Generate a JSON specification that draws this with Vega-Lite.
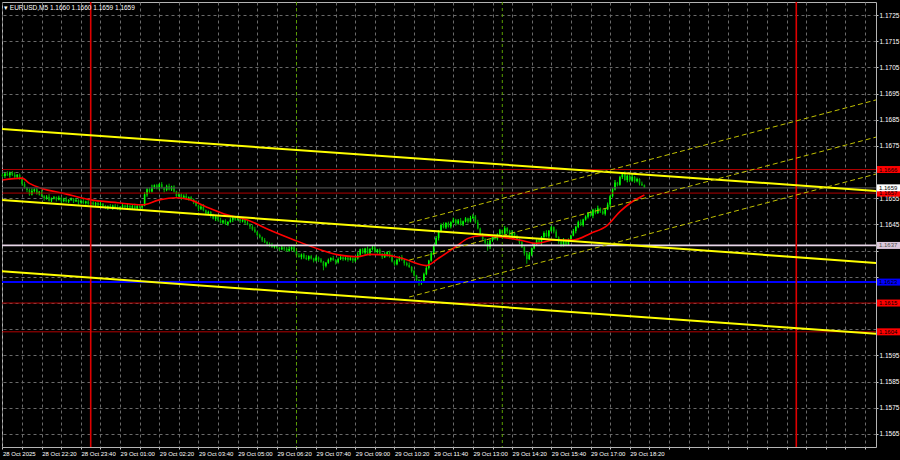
{
"$schema":"https://vega.github.io/schema/vega-lite/v6.json",
"width":874,"height":445,
"autosize":{"type":"none"},
"padding":{"left":2,"top":2,"right":24,"bottom":13},
"background":"#000000",
"title":{"text":"▾  EURUSD,M5  1.1660 1.1660 1.1659 1.1659","anchor":"start","frame":"group","offset":-10,"fontSize":6.5,"font":"Liberation Sans","fontWeight":"normal","color":"#ffffff","dx":2},
"datasets":{
"candles":[
{"t":"2025-10-28T21:00Z","o":1.1664,"h":1.16645,"l":1.16631,"c":1.16635},
{"t":"2025-10-28T21:05Z","o":1.16635,"h":1.16648,"l":1.16628,"c":1.16645},
{"t":"2025-10-28T21:10Z","o":1.16645,"h":1.16653,"l":1.16635,"c":1.16638},
{"t":"2025-10-28T21:15Z","o":1.16638,"h":1.16652,"l":1.16629,"c":1.16648},
{"t":"2025-10-28T21:20Z","o":1.16648,"h":1.16654,"l":1.16635,"c":1.1664},
{"t":"2025-10-28T21:25Z","o":1.1664,"h":1.1665,"l":1.16628,"c":1.16632},
{"t":"2025-10-28T21:30Z","o":1.16632,"h":1.16643,"l":1.16626,"c":1.1664},
{"t":"2025-10-28T21:35Z","o":1.1664,"h":1.16645,"l":1.16621,"c":1.16625},
{"t":"2025-10-28T21:40Z","o":1.16625,"h":1.16628,"l":1.16598,"c":1.16605},
{"t":"2025-10-28T21:45Z","o":1.16605,"h":1.16613,"l":1.16587,"c":1.1659},
{"t":"2025-10-28T21:50Z","o":1.1659,"h":1.16594,"l":1.16573,"c":1.16582},
{"t":"2025-10-28T21:55Z","o":1.16582,"h":1.16588,"l":1.1656,"c":1.16565},
{"t":"2025-10-28T22:00Z","o":1.16565,"h":1.16588,"l":1.16561,"c":1.16578},
{"t":"2025-10-28T22:05Z","o":1.16578,"h":1.16588,"l":1.16572,"c":1.16585},
{"t":"2025-10-28T22:10Z","o":1.16585,"h":1.1659,"l":1.16564,"c":1.16568},
{"t":"2025-10-28T22:15Z","o":1.16568,"h":1.16578,"l":1.16561,"c":1.16575},
{"t":"2025-10-28T22:20Z","o":1.16575,"h":1.16583,"l":1.16555,"c":1.16558},
{"t":"2025-10-28T22:25Z","o":1.16558,"h":1.16562,"l":1.16541,"c":1.1655},
{"t":"2025-10-28T22:30Z","o":1.1655,"h":1.16562,"l":1.16545,"c":1.16556},
{"t":"2025-10-28T22:35Z","o":1.16556,"h":1.16566,"l":1.16538,"c":1.16542},
{"t":"2025-10-28T22:40Z","o":1.16542,"h":1.16553,"l":1.16536,"c":1.1655},
{"t":"2025-10-28T22:45Z","o":1.1655,"h":1.16559,"l":1.16546,"c":1.16554},
{"t":"2025-10-28T22:50Z","o":1.16554,"h":1.16557,"l":1.16538,"c":1.16545},
{"t":"2025-10-28T22:55Z","o":1.16545,"h":1.1656,"l":1.16542,"c":1.16552},
{"t":"2025-10-28T23:00Z","o":1.16552,"h":1.16556,"l":1.16531,"c":1.1654},
{"t":"2025-10-28T23:05Z","o":1.1654,"h":1.16552,"l":1.16535,"c":1.16546},
{"t":"2025-10-28T23:10Z","o":1.16546,"h":1.16556,"l":1.16534,"c":1.16538},
{"t":"2025-10-28T23:15Z","o":1.16538,"h":1.16547,"l":1.16532,"c":1.16544},
{"t":"2025-10-28T23:20Z","o":1.16544,"h":1.16553,"l":1.1654,"c":1.16548},
{"t":"2025-10-28T23:25Z","o":1.16548,"h":1.16551,"l":1.16532,"c":1.16539},
{"t":"2025-10-28T23:30Z","o":1.16539,"h":1.16551,"l":1.16536,"c":1.16543},
{"t":"2025-10-28T23:35Z","o":1.16543,"h":1.16547,"l":1.16526,"c":1.16535},
{"t":"2025-10-28T23:40Z","o":1.16535,"h":1.16546,"l":1.1653,"c":1.1654},
{"t":"2025-10-28T23:45Z","o":1.1654,"h":1.1655,"l":1.16528,"c":1.16532},
{"t":"2025-10-28T23:50Z","o":1.16532,"h":1.16541,"l":1.16526,"c":1.16538},
{"t":"2025-10-28T23:55Z","o":1.16538,"h":1.16543,"l":1.16525,"c":1.16529},
{"t":"2025-10-29T00:00Z","o":1.16529,"h":1.16537,"l":1.16522,"c":1.16534},
{"t":"2025-10-29T00:05Z","o":1.16534,"h":1.16542,"l":1.16523,"c":1.16526},
{"t":"2025-10-29T00:10Z","o":1.16526,"h":1.16536,"l":1.16517,"c":1.16532},
{"t":"2025-10-29T00:15Z","o":1.16532,"h":1.16538,"l":1.16519,"c":1.16524},
{"t":"2025-10-29T00:20Z","o":1.16524,"h":1.16539,"l":1.1652,"c":1.16529},
{"t":"2025-10-29T00:25Z","o":1.16529,"h":1.16532,"l":1.16514,"c":1.1652},
{"t":"2025-10-29T00:30Z","o":1.1652,"h":1.16525,"l":1.16509,"c":1.16513},
{"t":"2025-10-29T00:35Z","o":1.16513,"h":1.16523,"l":1.16506,"c":1.1652},
{"t":"2025-10-29T00:40Z","o":1.1652,"h":1.16528,"l":1.16512,"c":1.16515},
{"t":"2025-10-29T00:45Z","o":1.16515,"h":1.16526,"l":1.16506,"c":1.16522},
{"t":"2025-10-29T00:50Z","o":1.16522,"h":1.16528,"l":1.16511,"c":1.16516},
{"t":"2025-10-29T00:55Z","o":1.16516,"h":1.16526,"l":1.16506,"c":1.1651},
{"t":"2025-10-29T01:00Z","o":1.1651,"h":1.1652,"l":1.16504,"c":1.16517},
{"t":"2025-10-29T01:05Z","o":1.16517,"h":1.16528,"l":1.16513,"c":1.16523},
{"t":"2025-10-29T01:10Z","o":1.16523,"h":1.16526,"l":1.16509,"c":1.16516},
{"t":"2025-10-29T01:15Z","o":1.16516,"h":1.1653,"l":1.16513,"c":1.16522},
{"t":"2025-10-29T01:20Z","o":1.16522,"h":1.16526,"l":1.16505,"c":1.16514},
{"t":"2025-10-29T01:25Z","o":1.16514,"h":1.16526,"l":1.16509,"c":1.1652},
{"t":"2025-10-29T01:30Z","o":1.1652,"h":1.1653,"l":1.16508,"c":1.16512},
{"t":"2025-10-29T01:35Z","o":1.16512,"h":1.16524,"l":1.16506,"c":1.16521},
{"t":"2025-10-29T01:40Z","o":1.16521,"h":1.16526,"l":1.16511,"c":1.16515},
{"t":"2025-10-29T01:45Z","o":1.16515,"h":1.16526,"l":1.16508,"c":1.16523},
{"t":"2025-10-29T01:50Z","o":1.16523,"h":1.16573,"l":1.1652,"c":1.16565},
{"t":"2025-10-29T01:55Z","o":1.16565,"h":1.16589,"l":1.16556,"c":1.16585},
{"t":"2025-10-29T02:00Z","o":1.16585,"h":1.16591,"l":1.16571,"c":1.16576},
{"t":"2025-10-29T02:05Z","o":1.16576,"h":1.16602,"l":1.16572,"c":1.16592},
{"t":"2025-10-29T02:10Z","o":1.16592,"h":1.16603,"l":1.16586,"c":1.166},
{"t":"2025-10-29T02:15Z","o":1.166,"h":1.16605,"l":1.16584,"c":1.16588},
{"t":"2025-10-29T02:20Z","o":1.16588,"h":1.16607,"l":1.16581,"c":1.16604},
{"t":"2025-10-29T02:25Z","o":1.16604,"h":1.16612,"l":1.16587,"c":1.1659},
{"t":"2025-10-29T02:30Z","o":1.1659,"h":1.16594,"l":1.16573,"c":1.16582},
{"t":"2025-10-29T02:35Z","o":1.16582,"h":1.16602,"l":1.16577,"c":1.16596},
{"t":"2025-10-29T02:40Z","o":1.16596,"h":1.16606,"l":1.1658,"c":1.16584},
{"t":"2025-10-29T02:45Z","o":1.16584,"h":1.16598,"l":1.16578,"c":1.16595},
{"t":"2025-10-29T02:50Z","o":1.16595,"h":1.166,"l":1.16572,"c":1.16576},
{"t":"2025-10-29T02:55Z","o":1.16576,"h":1.16579,"l":1.16551,"c":1.16558},
{"t":"2025-10-29T03:00Z","o":1.16558,"h":1.16573,"l":1.16555,"c":1.16565},
{"t":"2025-10-29T03:05Z","o":1.16565,"h":1.16569,"l":1.16543,"c":1.16552},
{"t":"2025-10-29T03:10Z","o":1.16552,"h":1.16565,"l":1.16547,"c":1.16559},
{"t":"2025-10-29T03:15Z","o":1.16559,"h":1.16569,"l":1.16544,"c":1.16548},
{"t":"2025-10-29T03:20Z","o":1.16548,"h":1.16557,"l":1.16542,"c":1.16554},
{"t":"2025-10-29T03:25Z","o":1.16554,"h":1.16559,"l":1.16542,"c":1.16546},
{"t":"2025-10-29T03:30Z","o":1.16546,"h":1.16549,"l":1.16528,"c":1.16535},
{"t":"2025-10-29T03:35Z","o":1.16535,"h":1.16543,"l":1.16519,"c":1.16522},
{"t":"2025-10-29T03:40Z","o":1.16522,"h":1.16526,"l":1.16501,"c":1.1651},
{"t":"2025-10-29T03:45Z","o":1.1651,"h":1.16524,"l":1.16505,"c":1.16518},
{"t":"2025-10-29T03:50Z","o":1.16518,"h":1.16528,"l":1.165,"c":1.16504},
{"t":"2025-10-29T03:55Z","o":1.16504,"h":1.16507,"l":1.16486,"c":1.16492},
{"t":"2025-10-29T04:00Z","o":1.16492,"h":1.16503,"l":1.16488,"c":1.16498},
{"t":"2025-10-29T04:05Z","o":1.16498,"h":1.16501,"l":1.16476,"c":1.16483},
{"t":"2025-10-29T04:10Z","o":1.16483,"h":1.16491,"l":1.16469,"c":1.16472},
{"t":"2025-10-29T04:15Z","o":1.16472,"h":1.16483,"l":1.16463,"c":1.16479},
{"t":"2025-10-29T04:20Z","o":1.16479,"h":1.16485,"l":1.16461,"c":1.16466},
{"t":"2025-10-29T04:25Z","o":1.16466,"h":1.16476,"l":1.16454,"c":1.16458},
{"t":"2025-10-29T04:30Z","o":1.16458,"h":1.16468,"l":1.16452,"c":1.16465},
{"t":"2025-10-29T04:35Z","o":1.16465,"h":1.1647,"l":1.16448,"c":1.16452},
{"t":"2025-10-29T04:40Z","o":1.16452,"h":1.16463,"l":1.16445,"c":1.1646},
{"t":"2025-10-29T04:45Z","o":1.1646,"h":1.16476,"l":1.16457,"c":1.16468},
{"t":"2025-10-29T04:50Z","o":1.16468,"h":1.1648,"l":1.16459,"c":1.16476},
{"t":"2025-10-29T04:55Z","o":1.16476,"h":1.16482,"l":1.16464,"c":1.16469},
{"t":"2025-10-29T05:00Z","o":1.16469,"h":1.16484,"l":1.16465,"c":1.16474},
{"t":"2025-10-29T05:05Z","o":1.16474,"h":1.16477,"l":1.16456,"c":1.16462},
{"t":"2025-10-29T05:10Z","o":1.16462,"h":1.16473,"l":1.16458,"c":1.16468},
{"t":"2025-10-29T05:15Z","o":1.16468,"h":1.16471,"l":1.1645,"c":1.16457},
{"t":"2025-10-29T05:20Z","o":1.16457,"h":1.16465,"l":1.16447,"c":1.1645},
{"t":"2025-10-29T05:25Z","o":1.1645,"h":1.16454,"l":1.16433,"c":1.16442},
{"t":"2025-10-29T05:30Z","o":1.16442,"h":1.16448,"l":1.16426,"c":1.16431},
{"t":"2025-10-29T05:35Z","o":1.16431,"h":1.16441,"l":1.16418,"c":1.16422},
{"t":"2025-10-29T05:40Z","o":1.16422,"h":1.16425,"l":1.16404,"c":1.1641},
{"t":"2025-10-29T05:45Z","o":1.1641,"h":1.16415,"l":1.16397,"c":1.16401},
{"t":"2025-10-29T05:50Z","o":1.16401,"h":1.16404,"l":1.16383,"c":1.1639},
{"t":"2025-10-29T05:55Z","o":1.1639,"h":1.16398,"l":1.16379,"c":1.16382},
{"t":"2025-10-29T06:00Z","o":1.16382,"h":1.16386,"l":1.16367,"c":1.16376},
{"t":"2025-10-29T06:05Z","o":1.16376,"h":1.16382,"l":1.16365,"c":1.1637},
{"t":"2025-10-29T06:10Z","o":1.1637,"h":1.1638,"l":1.1636,"c":1.16364},
{"t":"2025-10-29T06:15Z","o":1.16364,"h":1.16371,"l":1.16358,"c":1.16368},
{"t":"2025-10-29T06:20Z","o":1.16368,"h":1.16373,"l":1.16357,"c":1.16361},
{"t":"2025-10-29T06:25Z","o":1.16361,"h":1.16364,"l":1.16348,"c":1.16355},
{"t":"2025-10-29T06:30Z","o":1.16355,"h":1.1637,"l":1.16352,"c":1.16362},
{"t":"2025-10-29T06:35Z","o":1.16362,"h":1.16366,"l":1.16349,"c":1.16358},
{"t":"2025-10-29T06:40Z","o":1.16358,"h":1.16364,"l":1.16345,"c":1.1635},
{"t":"2025-10-29T06:45Z","o":1.1635,"h":1.16366,"l":1.16346,"c":1.16356},
{"t":"2025-10-29T06:50Z","o":1.16356,"h":1.16366,"l":1.1635,"c":1.16363},
{"t":"2025-10-29T06:55Z","o":1.16363,"h":1.16368,"l":1.16344,"c":1.16348},
{"t":"2025-10-29T07:00Z","o":1.16348,"h":1.16351,"l":1.16325,"c":1.16332},
{"t":"2025-10-29T07:05Z","o":1.16332,"h":1.1634,"l":1.16323,"c":1.16326},
{"t":"2025-10-29T07:10Z","o":1.16326,"h":1.16339,"l":1.16317,"c":1.16335},
{"t":"2025-10-29T07:15Z","o":1.16335,"h":1.16341,"l":1.16318,"c":1.16323},
{"t":"2025-10-29T07:20Z","o":1.16323,"h":1.16333,"l":1.16314,"c":1.16318},
{"t":"2025-10-29T07:25Z","o":1.16318,"h":1.16332,"l":1.16312,"c":1.16329},
{"t":"2025-10-29T07:30Z","o":1.16329,"h":1.16334,"l":1.16316,"c":1.1632},
{"t":"2025-10-29T07:35Z","o":1.1632,"h":1.16323,"l":1.16305,"c":1.16312},
{"t":"2025-10-29T07:40Z","o":1.16312,"h":1.16332,"l":1.16309,"c":1.16324},
{"t":"2025-10-29T07:45Z","o":1.16324,"h":1.16328,"l":1.16307,"c":1.16316},
{"t":"2025-10-29T07:50Z","o":1.16316,"h":1.16322,"l":1.16303,"c":1.16308},
{"t":"2025-10-29T07:55Z","o":1.16308,"h":1.16311,"l":1.16275,"c":1.16292},
{"t":"2025-10-29T08:00Z","o":1.16292,"h":1.16307,"l":1.16286,"c":1.16304},
{"t":"2025-10-29T08:05Z","o":1.16304,"h":1.1632,"l":1.163,"c":1.16315},
{"t":"2025-10-29T08:10Z","o":1.16315,"h":1.16325,"l":1.16308,"c":1.16322},
{"t":"2025-10-29T08:15Z","o":1.16322,"h":1.1633,"l":1.16311,"c":1.16314},
{"t":"2025-10-29T08:20Z","o":1.16314,"h":1.16318,"l":1.16297,"c":1.16306},
{"t":"2025-10-29T08:25Z","o":1.16306,"h":1.16324,"l":1.16301,"c":1.16318},
{"t":"2025-10-29T08:30Z","o":1.16318,"h":1.16335,"l":1.16314,"c":1.16325},
{"t":"2025-10-29T08:35Z","o":1.16325,"h":1.16328,"l":1.16311,"c":1.16317},
{"t":"2025-10-29T08:40Z","o":1.16317,"h":1.16328,"l":1.16313,"c":1.16323},
{"t":"2025-10-29T08:45Z","o":1.16323,"h":1.16326,"l":1.16308,"c":1.16315},
{"t":"2025-10-29T08:50Z","o":1.16315,"h":1.16329,"l":1.16312,"c":1.16321},
{"t":"2025-10-29T08:55Z","o":1.16321,"h":1.16325,"l":1.16303,"c":1.16312},
{"t":"2025-10-29T09:00Z","o":1.16312,"h":1.16326,"l":1.16307,"c":1.1632},
{"t":"2025-10-29T09:05Z","o":1.1632,"h":1.16344,"l":1.16316,"c":1.16334},
{"t":"2025-10-29T09:10Z","o":1.16334,"h":1.16358,"l":1.16328,"c":1.16355},
{"t":"2025-10-29T09:15Z","o":1.16355,"h":1.1636,"l":1.16338,"c":1.16342},
{"t":"2025-10-29T09:20Z","o":1.16342,"h":1.16361,"l":1.16335,"c":1.16358},
{"t":"2025-10-29T09:25Z","o":1.16358,"h":1.16366,"l":1.16336,"c":1.16339},
{"t":"2025-10-29T09:30Z","o":1.16339,"h":1.1636,"l":1.1633,"c":1.16356},
{"t":"2025-10-29T09:35Z","o":1.16356,"h":1.16368,"l":1.16351,"c":1.16362},
{"t":"2025-10-29T09:40Z","o":1.16362,"h":1.16372,"l":1.16341,"c":1.16345},
{"t":"2025-10-29T09:45Z","o":1.16345,"h":1.16357,"l":1.16339,"c":1.16354},
{"t":"2025-10-29T09:50Z","o":1.16354,"h":1.16359,"l":1.16334,"c":1.16338},
{"t":"2025-10-29T09:55Z","o":1.16338,"h":1.16341,"l":1.16318,"c":1.16325},
{"t":"2025-10-29T10:00Z","o":1.16325,"h":1.16344,"l":1.16322,"c":1.16336},
{"t":"2025-10-29T10:05Z","o":1.16336,"h":1.16348,"l":1.16327,"c":1.16344},
{"t":"2025-10-29T10:10Z","o":1.16344,"h":1.1635,"l":1.16323,"c":1.16328},
{"t":"2025-10-29T10:15Z","o":1.16328,"h":1.16338,"l":1.16305,"c":1.16309},
{"t":"2025-10-29T10:20Z","o":1.16309,"h":1.16312,"l":1.16292,"c":1.16298},
{"t":"2025-10-29T10:25Z","o":1.16298,"h":1.1632,"l":1.16294,"c":1.16315},
{"t":"2025-10-29T10:30Z","o":1.16315,"h":1.16329,"l":1.16308,"c":1.16326},
{"t":"2025-10-29T10:35Z","o":1.16326,"h":1.16334,"l":1.16311,"c":1.16314},
{"t":"2025-10-29T10:40Z","o":1.16314,"h":1.16318,"l":1.16293,"c":1.16302},
{"t":"2025-10-29T10:45Z","o":1.16302,"h":1.16308,"l":1.1629,"c":1.16295},
{"t":"2025-10-29T10:50Z","o":1.16295,"h":1.16305,"l":1.16284,"c":1.16288},
{"t":"2025-10-29T10:55Z","o":1.16288,"h":1.16291,"l":1.16266,"c":1.16272},
{"t":"2025-10-29T11:00Z","o":1.16272,"h":1.16277,"l":1.16251,"c":1.16255},
{"t":"2025-10-29T11:05Z","o":1.16255,"h":1.16258,"l":1.16231,"c":1.16238},
{"t":"2025-10-29T11:10Z","o":1.16238,"h":1.16242,"l":1.16216,"c":1.16229},
{"t":"2025-10-29T11:15Z","o":1.16229,"h":1.16239,"l":1.1622,"c":1.16235},
{"t":"2025-10-29T11:20Z","o":1.16235,"h":1.16266,"l":1.1623,"c":1.1626},
{"t":"2025-10-29T11:25Z","o":1.1626,"h":1.16294,"l":1.16256,"c":1.16284},
{"t":"2025-10-29T11:30Z","o":1.16284,"h":1.16315,"l":1.16278,"c":1.16312},
{"t":"2025-10-29T11:35Z","o":1.16312,"h":1.16345,"l":1.16308,"c":1.1634},
{"t":"2025-10-29T11:40Z","o":1.1634,"h":1.16374,"l":1.16333,"c":1.16371},
{"t":"2025-10-29T11:45Z","o":1.16371,"h":1.16406,"l":1.16368,"c":1.16398},
{"t":"2025-10-29T11:50Z","o":1.16398,"h":1.16429,"l":1.16389,"c":1.16425},
{"t":"2025-10-29T11:55Z","o":1.16425,"h":1.16454,"l":1.1642,"c":1.16448},
{"t":"2025-10-29T12:00Z","o":1.16448,"h":1.16458,"l":1.16435,"c":1.16439},
{"t":"2025-10-29T12:05Z","o":1.16439,"h":1.16459,"l":1.16433,"c":1.16456},
{"t":"2025-10-29T12:10Z","o":1.16456,"h":1.16461,"l":1.16438,"c":1.16442},
{"t":"2025-10-29T12:15Z","o":1.16442,"h":1.16462,"l":1.16435,"c":1.16459},
{"t":"2025-10-29T12:20Z","o":1.16459,"h":1.16476,"l":1.16456,"c":1.16468},
{"t":"2025-10-29T12:25Z","o":1.16468,"h":1.16472,"l":1.16445,"c":1.16454},
{"t":"2025-10-29T12:30Z","o":1.16454,"h":1.16471,"l":1.16449,"c":1.16465},
{"t":"2025-10-29T12:35Z","o":1.16465,"h":1.16475,"l":1.16446,"c":1.1645},
{"t":"2025-10-29T12:40Z","o":1.1645,"h":1.16465,"l":1.16444,"c":1.16462},
{"t":"2025-10-29T12:45Z","o":1.16462,"h":1.16478,"l":1.16458,"c":1.16473},
{"t":"2025-10-29T12:50Z","o":1.16473,"h":1.16476,"l":1.16454,"c":1.16461},
{"t":"2025-10-29T12:55Z","o":1.16461,"h":1.16483,"l":1.16458,"c":1.16475},
{"t":"2025-10-29T13:00Z","o":1.16475,"h":1.16489,"l":1.16471,"c":1.1648},
{"t":"2025-10-29T13:05Z","o":1.1648,"h":1.16486,"l":1.16453,"c":1.16458},
{"t":"2025-10-29T13:10Z","o":1.16458,"h":1.16468,"l":1.16431,"c":1.16435},
{"t":"2025-10-29T13:15Z","o":1.16435,"h":1.16438,"l":1.16406,"c":1.16412},
{"t":"2025-10-29T13:20Z","o":1.16412,"h":1.16417,"l":1.1639,"c":1.16394},
{"t":"2025-10-29T13:25Z","o":1.16394,"h":1.16397,"l":1.16373,"c":1.1638},
{"t":"2025-10-29T13:30Z","o":1.1638,"h":1.16388,"l":1.1635,"c":1.16365},
{"t":"2025-10-29T13:35Z","o":1.16365,"h":1.16393,"l":1.16356,"c":1.16389},
{"t":"2025-10-29T13:40Z","o":1.16389,"h":1.16408,"l":1.16384,"c":1.16402},
{"t":"2025-10-29T13:45Z","o":1.16402,"h":1.16412,"l":1.16391,"c":1.16395},
{"t":"2025-10-29T13:50Z","o":1.16395,"h":1.16416,"l":1.16389,"c":1.16413},
{"t":"2025-10-29T13:55Z","o":1.16413,"h":1.16433,"l":1.16409,"c":1.16428},
{"t":"2025-10-29T14:00Z","o":1.16428,"h":1.16431,"l":1.16408,"c":1.16415},
{"t":"2025-10-29T14:05Z","o":1.16415,"h":1.16444,"l":1.16412,"c":1.16436},
{"t":"2025-10-29T14:10Z","o":1.16436,"h":1.1644,"l":1.16415,"c":1.16424},
{"t":"2025-10-29T14:15Z","o":1.16424,"h":1.1643,"l":1.16403,"c":1.16408},
{"t":"2025-10-29T14:20Z","o":1.16408,"h":1.16429,"l":1.16404,"c":1.16419},
{"t":"2025-10-29T14:25Z","o":1.16419,"h":1.16422,"l":1.164,"c":1.16406},
{"t":"2025-10-29T14:30Z","o":1.16406,"h":1.16411,"l":1.1639,"c":1.16394},
{"t":"2025-10-29T14:35Z","o":1.16394,"h":1.16397,"l":1.16375,"c":1.16382},
{"t":"2025-10-29T14:40Z","o":1.16382,"h":1.1639,"l":1.1636,"c":1.16363},
{"t":"2025-10-29T14:45Z","o":1.16363,"h":1.16367,"l":1.16331,"c":1.1634},
{"t":"2025-10-29T14:50Z","o":1.1634,"h":1.16346,"l":1.163,"c":1.16318},
{"t":"2025-10-29T14:55Z","o":1.16318,"h":1.16345,"l":1.16314,"c":1.16335},
{"t":"2025-10-29T15:00Z","o":1.16335,"h":1.16362,"l":1.16329,"c":1.16359},
{"t":"2025-10-29T15:05Z","o":1.16359,"h":1.16381,"l":1.16355,"c":1.16376},
{"t":"2025-10-29T15:10Z","o":1.16376,"h":1.16393,"l":1.16369,"c":1.1639},
{"t":"2025-10-29T15:15Z","o":1.1639,"h":1.16398,"l":1.16378,"c":1.16381},
{"t":"2025-10-29T15:20Z","o":1.16381,"h":1.16406,"l":1.16372,"c":1.16402},
{"t":"2025-10-29T15:25Z","o":1.16402,"h":1.16424,"l":1.16397,"c":1.16418},
{"t":"2025-10-29T15:30Z","o":1.16418,"h":1.16428,"l":1.16401,"c":1.16405},
{"t":"2025-10-29T15:35Z","o":1.16405,"h":1.16429,"l":1.16399,"c":1.16426},
{"t":"2025-10-29T15:40Z","o":1.16426,"h":1.16445,"l":1.16422,"c":1.1644},
{"t":"2025-10-29T15:45Z","o":1.1644,"h":1.16443,"l":1.16416,"c":1.16423},
{"t":"2025-10-29T15:50Z","o":1.16423,"h":1.16431,"l":1.16398,"c":1.16401},
{"t":"2025-10-29T15:55Z","o":1.16401,"h":1.16405,"l":1.16376,"c":1.16385},
{"t":"2025-10-29T16:00Z","o":1.16385,"h":1.16391,"l":1.16365,"c":1.1637},
{"t":"2025-10-29T16:05Z","o":1.1637,"h":1.16398,"l":1.16366,"c":1.16388},
{"t":"2025-10-29T16:10Z","o":1.16388,"h":1.16391,"l":1.16368,"c":1.16374},
{"t":"2025-10-29T16:15Z","o":1.16374,"h":1.16397,"l":1.1637,"c":1.16392},
{"t":"2025-10-29T16:20Z","o":1.16392,"h":1.16411,"l":1.16385,"c":1.16408},
{"t":"2025-10-29T16:25Z","o":1.16408,"h":1.16433,"l":1.16405,"c":1.16425},
{"t":"2025-10-29T16:30Z","o":1.16425,"h":1.16445,"l":1.16416,"c":1.16441},
{"t":"2025-10-29T16:35Z","o":1.16441,"h":1.16465,"l":1.16436,"c":1.16459},
{"t":"2025-10-29T16:40Z","o":1.16459,"h":1.16469,"l":1.16444,"c":1.16448},
{"t":"2025-10-29T16:45Z","o":1.16448,"h":1.16472,"l":1.16442,"c":1.16469},
{"t":"2025-10-29T16:50Z","o":1.16469,"h":1.16485,"l":1.16465,"c":1.1648},
{"t":"2025-10-29T16:55Z","o":1.1648,"h":1.16498,"l":1.16473,"c":1.16495},
{"t":"2025-10-29T17:00Z","o":1.16495,"h":1.16503,"l":1.1648,"c":1.16483},
{"t":"2025-10-29T17:05Z","o":1.16483,"h":1.1651,"l":1.16474,"c":1.16506},
{"t":"2025-10-29T17:10Z","o":1.16506,"h":1.16512,"l":1.16489,"c":1.16494},
{"t":"2025-10-29T17:15Z","o":1.16494,"h":1.16522,"l":1.1649,"c":1.16512},
{"t":"2025-10-29T17:20Z","o":1.16512,"h":1.16515,"l":1.16494,"c":1.165},
{"t":"2025-10-29T17:25Z","o":1.165,"h":1.16505,"l":1.16487,"c":1.16491},
{"t":"2025-10-29T17:30Z","o":1.16491,"h":1.16511,"l":1.16484,"c":1.16508},
{"t":"2025-10-29T17:35Z","o":1.16508,"h":1.16534,"l":1.16505,"c":1.16526},
{"t":"2025-10-29T17:40Z","o":1.16526,"h":1.16562,"l":1.16517,"c":1.16558},
{"t":"2025-10-29T17:45Z","o":1.16558,"h":1.1659,"l":1.16553,"c":1.16584},
{"t":"2025-10-29T17:50Z","o":1.16584,"h":1.1662,"l":1.1658,"c":1.1661},
{"t":"2025-10-29T17:55Z","o":1.1661,"h":1.16613,"l":1.16596,"c":1.16602},
{"t":"2025-10-29T18:00Z","o":1.16602,"h":1.16636,"l":1.16598,"c":1.16631},
{"t":"2025-10-29T18:05Z","o":1.16631,"h":1.16648,"l":1.16624,"c":1.16645},
{"t":"2025-10-29T18:10Z","o":1.16645,"h":1.16653,"l":1.16617,"c":1.1662},
{"t":"2025-10-29T18:15Z","o":1.1662,"h":1.1664,"l":1.16611,"c":1.16636},
{"t":"2025-10-29T18:20Z","o":1.16636,"h":1.16642,"l":1.16612,"c":1.16617},
{"t":"2025-10-29T18:25Z","o":1.16617,"h":1.16642,"l":1.16613,"c":1.16632},
{"t":"2025-10-29T18:30Z","o":1.16632,"h":1.16635,"l":1.16609,"c":1.16615},
{"t":"2025-10-29T18:35Z","o":1.16615,"h":1.16629,"l":1.16611,"c":1.16624},
{"t":"2025-10-29T18:40Z","o":1.16624,"h":1.16627,"l":1.16599,"c":1.16606},
{"t":"2025-10-29T18:45Z","o":1.16606,"h":1.16614,"l":1.16597,"c":1.166},
{"t":"2025-10-29T18:50Z","o":1.166,"h":1.16603,"l":1.1659,"c":1.1659}
],
"ma":[
{"t":"2025-10-28T21:00Z","v":1.1662},{"t":"2025-10-28T21:40Z","v":1.16627},{"t":"2025-10-28T21:55Z","v":1.16607},{"t":"2025-10-28T22:20Z","v":1.16588},{"t":"2025-10-28T23:05Z","v":1.16569},{"t":"2025-10-28T23:55Z","v":1.16546},{"t":"2025-10-29T00:55Z","v":1.16533},{"t":"2025-10-29T01:45Z","v":1.16525},{"t":"2025-10-29T02:20Z","v":1.16544},{"t":"2025-10-29T02:55Z","v":1.16552},{"t":"2025-10-29T03:20Z","v":1.16546},{"t":"2025-10-29T03:55Z","v":1.16518},{"t":"2025-10-29T04:40Z","v":1.16486},{"t":"2025-10-29T05:20Z","v":1.16467},{"t":"2025-10-29T06:05Z","v":1.16429},{"t":"2025-10-29T06:55Z","v":1.16391},{"t":"2025-10-29T07:50Z","v":1.16353},{"t":"2025-10-29T08:25Z","v":1.16334},{"t":"2025-10-29T09:05Z","v":1.16327},{"t":"2025-10-29T09:30Z","v":1.16336},{"t":"2025-10-29T10:00Z","v":1.16334},{"t":"2025-10-29T10:35Z","v":1.16321},{"t":"2025-10-29T11:25Z","v":1.16293},{"t":"2025-10-29T11:50Z","v":1.16321},{"t":"2025-10-29T12:25Z","v":1.16365},{"t":"2025-10-29T12:50Z","v":1.16397},{"t":"2025-10-29T13:15Z","v":1.16407},{"t":"2025-10-29T13:50Z","v":1.16403},{"t":"2025-10-29T14:35Z","v":1.16391},{"t":"2025-10-29T15:10Z","v":1.16378},{"t":"2025-10-29T15:45Z","v":1.16391},{"t":"2025-10-29T16:25Z","v":1.16391},{"t":"2025-10-29T17:00Z","v":1.16416},{"t":"2025-10-29T17:35Z","v":1.16448},{"t":"2025-10-29T18:00Z","v":1.16499},{"t":"2025-10-29T18:25Z","v":1.16537},{"t":"2025-10-29T18:50Z","v":1.16563}
],
"levels":[
{"p":1.1666,"kind":"level"},{"p":1.1657,"kind":"level"},{"p":1.1615,"kind":"level"},{"p":1.1604,"kind":"level"},
{"p":1.1659,"kind":"bid"},{"p":1.1637,"kind":"senkou"},{"p":1.1623,"kind":"kijun"}
],
"vlines":[
{"t":"2025-10-29T00:00Z","kind":"day"},{"t":"2025-10-30T00:00Z","kind":"day"},
{"t":"2025-10-29T07:00Z","kind":"session"},{"t":"2025-10-29T14:00Z","kind":"session"}
],
"trends":[
{"kind":"trend","t1":"2025-10-28T20:55Z","p1":1.16815,"t2":"2025-10-30T02:45Z","p2":1.16578},
{"kind":"trend","t1":"2025-10-28T20:55Z","p1":1.16544,"t2":"2025-10-30T02:45Z","p2":1.16303},
{"kind":"trend","t1":"2025-10-28T20:55Z","p1":1.16272,"t2":"2025-10-30T02:45Z","p2":1.16032},
{"kind":"channel","t1":"2025-10-29T10:50Z","p1":1.16456,"t2":"2025-10-30T02:45Z","p2":1.16927},
{"kind":"channel","t1":"2025-10-29T10:50Z","p1":1.16314,"t2":"2025-10-30T02:45Z","p2":1.16785},
{"kind":"channel","t1":"2025-10-29T10:50Z","p1":1.16173,"t2":"2025-10-30T02:45Z","p2":1.16644}
]
},
"layer":[
{
"data":{"name":"candles"},
"mark":{"type":"rule","strokeWidth":1},
"encoding":{
"x":{"field":"t","type":"temporal","scale":{"type":"utc","nice":false,"padding":0,"domain":[{"year":2025,"month":10,"date":28,"hours":20,"minutes":58,"seconds":59,"utc":true},{"year":2025,"month":10,"date":30,"hours":2,"minutes":42,"seconds":39,"utc":true}]},
"axis":{"orient":"bottom","title":null,"tickCount":200,"values":[1761685200000,1761687600000,1761690000000,1761692400000,1761694800000,1761697200000,1761699600000,1761702000000,1761704400000,1761706800000,1761709200000,1761711600000,1761714000000,1761716400000,1761718800000,1761721200000,1761723600000,1761726000000,1761728400000,1761730800000,1761733200000,1761735600000,1761738000000,1761740400000,1761742800000,1761745200000,1761747600000,1761750000000,1761752400000,1761754800000,1761757200000,1761759600000,1761762000000,1761764400000,1761766800000,1761769200000,1761771600000,1761774000000,1761776400000,1761778800000,1761781200000,1761783600000,1761786000000,1761788400000,1761790800000],
"labelExpr":"((time(datum.value) - 1761685200000) % 4800000 != 0 || time(datum.value) > 1761762000000) ? '' : (time(datum.value) == 1761685200000 ? '28 Oct 2025' : utcFormat(datum.value, '%d %b %H:%M'))",
"labelAlign":"left","labelBaseline":"top","labelPadding":1,"labelOverlap":false,"labelBound":false,"labelFlush":false,
"tickSize":2,"tickColor":"#c8c8c8","domain":false,
"grid":true,"gridColor":"#6a6a6a","gridDash":[3,3],"gridWidth":1,
"labelColor":"#ffffff","labelFont":"Liberation Sans","labelFontSize":6}},
"y":{"field":"l","type":"quantitative","scale":{"domain":[1.156,1.173],"zero":false,"nice":false},
"axis":{"orient":"right","title":null,"tickCount":200,"values":[1.1565,1.1575,1.1585,1.1595,1.1605,1.1615,1.1625,1.1635,1.1645,1.1655,1.1665,1.1675,1.1685,1.1695,1.1705,1.1715,1.1725],
"labelExpr":"indexof(['1.1665','1.1635','1.1625','1.1615','1.1605'], format(datum.value, '.4f')) >= 0 ? '' : format(datum.value, '.4f')",
"labelPadding":1,"labelOverlap":false,"labelBound":false,"labelFlush":false,"tickSize":2,"tickColor":"#c8c8c8","domain":false,
"grid":true,"gridColor":"#6a6a6a","gridDash":[3,3],"gridWidth":1,
"labelColor":"#ffffff","labelFont":"Liberation Sans","labelFontSize":6.5}},
"y2":{"field":"h"},
"color":{"condition":{"test":"datum.c >= datum.o","value":"#00ff00"},"value":"#00b400"}
}
},
{
"data":{"name":"candles"},
"mark":{"type":"bar","size":1.6},
"encoding":{
"x":{"field":"t","type":"temporal"},
"y":{"field":"o","type":"quantitative"},
"y2":{"field":"c"},
"color":{"condition":{"test":"datum.c >= datum.o","value":"#00ff00"},"value":"#00b400"}
}
},
{
"data":{"name":"ma"},
"mark":{"type":"line","color":"#ff0000","strokeWidth":1.6,"interpolate":"monotone"},
"encoding":{"x":{"field":"t","type":"temporal"},"y":{"field":"v","type":"quantitative"}}
},
{
"data":{"name":"levels"},
"mark":{"type":"rule"},
"encoding":{
"y":{"field":"p","type":"quantitative"},
"color":{"field":"kind","type":"nominal","scale":{"domain":["level","bid","senkou","kijun"],"range":["#b00000","#4a4a4a","#e8d6e8","#0000ff"]},"legend":null},
"strokeWidth":{"field":"kind","type":"nominal","scale":{"domain":["level","bid","senkou","kijun"],"range":[1,2,2.5,3]},"legend":null}
}
},
{
"data":{"name":"vlines"},
"transform":[{"filter":"datum.kind == 'day'"}],
"mark":{"type":"rule","color":"#e00000","strokeWidth":1.6},
"encoding":{"x":{"field":"t","type":"temporal"}}
},
{
"data":{"name":"vlines"},
"transform":[{"filter":"datum.kind == 'session'"}],
"mark":{"type":"rule","color":"#5aa000","strokeWidth":1,"strokeDash":[3,3]},
"encoding":{"x":{"field":"t","type":"temporal"}}
},
{
"data":{"name":"trends"},
"transform":[{"filter":"datum.kind == 'trend'"}],
"mark":{"type":"rule","color":"#ffff00","strokeWidth":2,"clip":true},
"encoding":{"x":{"field":"t1","type":"temporal"},"x2":{"field":"t2"},"y":{"field":"p1","type":"quantitative"},"y2":{"field":"p2"}}
},
{
"data":{"name":"trends"},
"transform":[{"filter":"datum.kind == 'channel'"}],
"mark":{"type":"rule","color":"#c0c000","strokeWidth":1,"strokeDash":[5,3],"clip":true},
"encoding":{"x":{"field":"t1","type":"temporal"},"x2":{"field":"t2"},"y":{"field":"p1","type":"quantitative"},"y2":{"field":"p2"}}
},
{
"data":{"name":"levels"},
"mark":{"type":"rect","xOffset":1,"x2Offset":24,"yOffset":-3.5,"y2Offset":3.5},
"encoding":{
"x":{"value":"width"},"x2":{"value":"width"},
"y":{"field":"p","type":"quantitative"},"y2":{"field":"p"},
"color":{"field":"kind","type":"nominal","scale":{"domain":["level","bid","senkou","kijun"],"range":["#ff0000","#ffffff","#dcc8dc","#0000ff"]},"legend":null}
}
},
{
"data":{"name":"levels"},
"mark":{"type":"text","align":"left","baseline":"middle","dx":3,"font":"Liberation Sans","fontSize":6},
"encoding":{
"x":{"value":"width"},
"y":{"field":"p","type":"quantitative"},
"text":{"field":"p","type":"quantitative","format":".4f"},
"color":{"field":"kind","type":"nominal","scale":{"domain":["level","bid","senkou","kijun"],"range":["#000000","#000000","#505050","#000000"]},"legend":null}
}
}
],
"resolve":{"scale":{"color":"independent","strokeWidth":"independent"}},
"config":{"view":{"stroke":"#b4b4b4","strokeWidth":1}}
}
